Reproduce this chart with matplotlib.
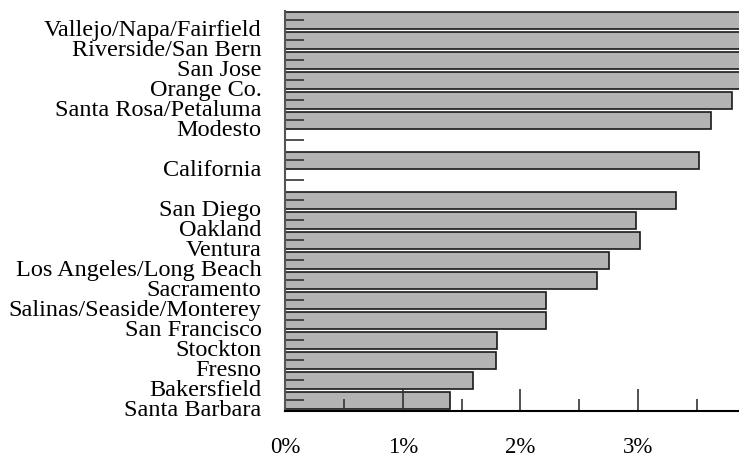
import numpy as np
import matplotlib.pyplot as plt
from matplotlib.transforms import ScaledTranslation

# rows top to bottom, '' marks the blank spacer rows
regions = ['Vallejo/Napa/Fairfield', 'Riverside/San Bern', 'San Jose', 'Orange Co.',
           'Santa Rosa/Petaluma', 'Modesto', '', 'California', '',
           'San Diego', 'Oakland', 'Ventura', 'Los Angeles/Long Beach', 'Sacramento',
           'Salinas/Seaside/Monterey', 'San Francisco', 'Stockton', 'Fresno',
           'Bakersfield', 'Santa Barbara']
growth = [4.6, 4.4, 4.2, 4.0, 3.80, 3.62, np.nan, 3.52, np.nan,
          3.32, 2.98, 3.02, 2.75, 2.65, 2.22, 2.22, 1.80, 1.79, 1.60, 1.40]
xticks = [0, 1, 2, 3]
xticklabels = ['0%', '1%', '2%', '3%']

plt.rcParams['font.family'] = ['Liberation Serif', 'DejaVu Serif']

fig = plt.figure(figsize=(7.39, 4.58), dpi=100)
ax = fig.add_axes([285 / 739, 47 / 458, 1 - 285 / 739, 400 / 458])

ypos = np.arange(len(regions))
vals = np.nan_to_num(np.array(growth, dtype=float))
ax.barh(ypos, vals, height=0.85, color='#b3b3b3', edgecolor='#1a1a1a', linewidth=1.2)

ax.set_xlim(0, 3.857)
ax.set_ylim(19.53, -0.45)

ax.set_xticks(xticks)
ax.set_xticklabels(xticklabels, fontsize=16.5)
ax.set_xticks([0.5, 1.5, 2.5, 3.5], minor=True)
ax.tick_params(axis='x', which='major', direction='in', length=16, width=1.2,
               color='#333333', pad=18.5)
ax.tick_params(axis='x', which='minor', direction='in', length=9, width=1.2,
               color='#333333')

ax.set_yticks(ypos)
ax.set_yticklabels(regions, fontsize=17.5)
ax.tick_params(axis='y', direction='in', length=14, width=1.2, color='#333333', pad=17)
shift = ScaledTranslation(0, -16 / 100, fig.dpi_scale_trans)
for lab in ax.get_yticklabels():
    lab.set_verticalalignment('baseline')
    lab.set_transform(lab.get_transform() + shift)

ax.spines['top'].set_visible(False)
ax.spines['right'].set_visible(False)
ax.spines['left'].set_color('#555555')
ax.spines['left'].set_linewidth(1.5)
ax.spines['bottom'].set_color('black')
ax.spines['bottom'].set_linewidth(1.5)

fig.savefig('out.png', dpi=100)
